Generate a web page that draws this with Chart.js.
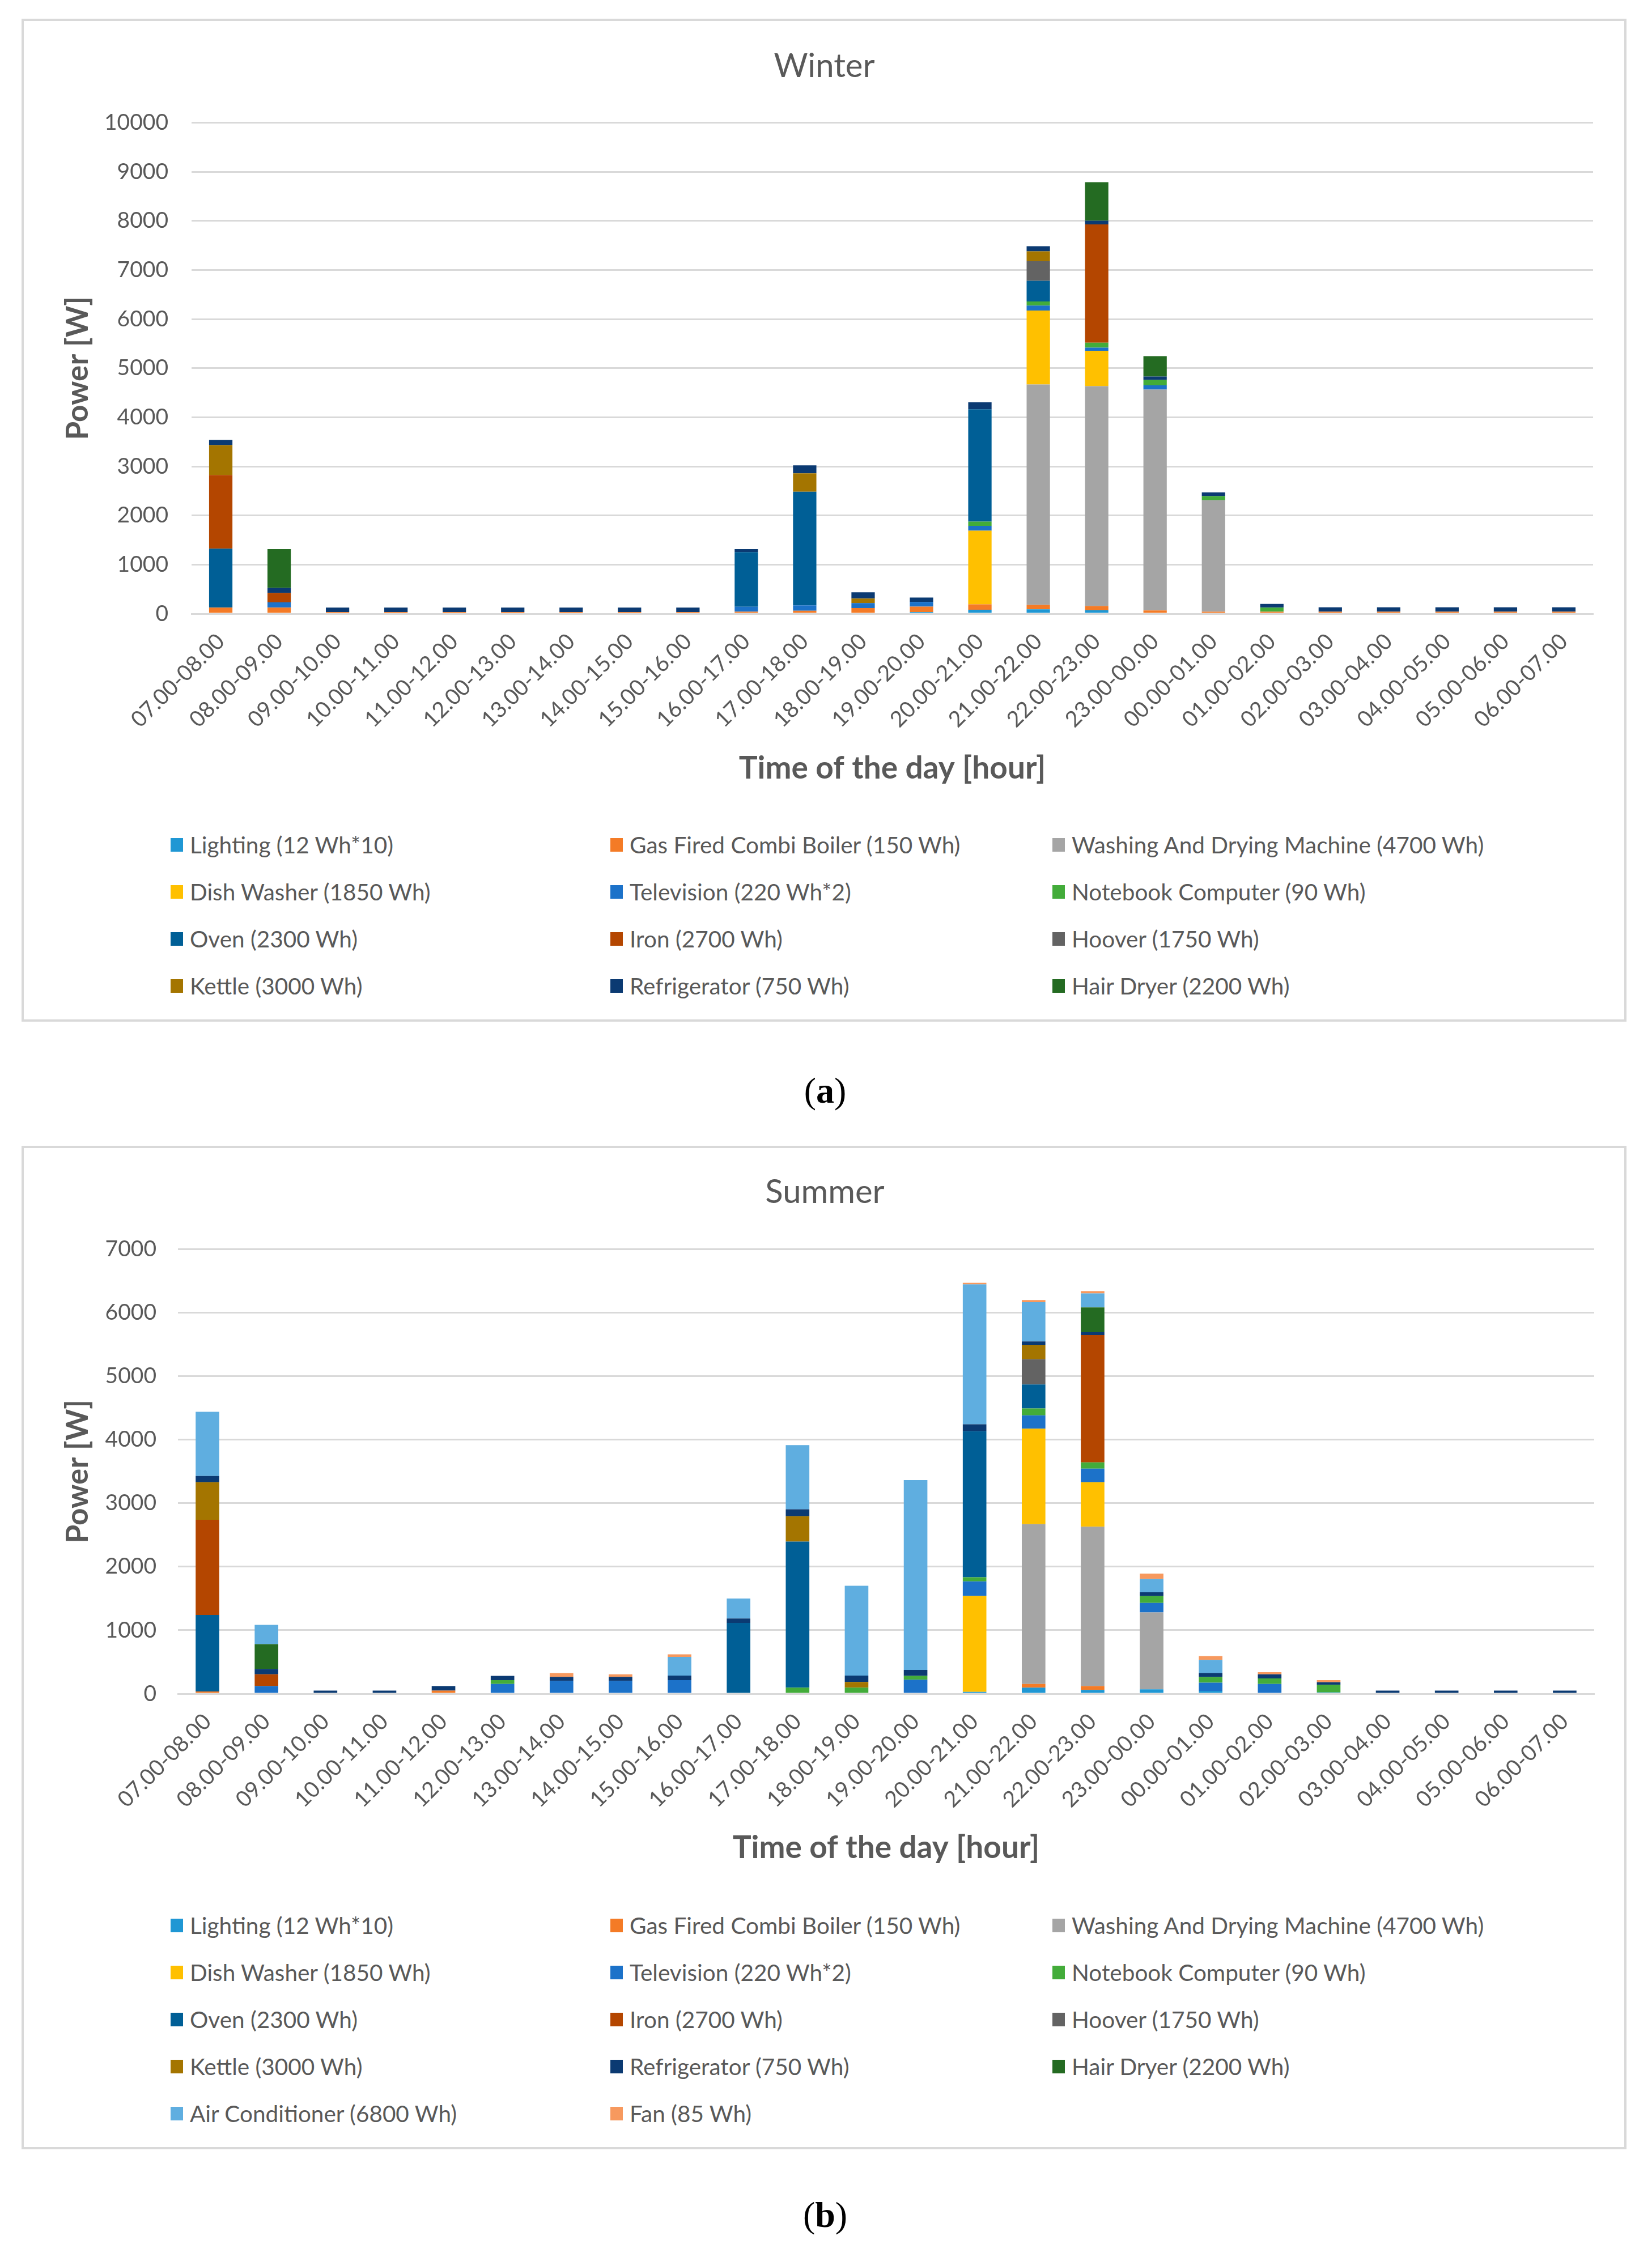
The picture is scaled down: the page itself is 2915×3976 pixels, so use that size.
<!DOCTYPE html>
<html>
<head>
<meta charset="utf-8">
<title>Household power demand - winter and summer</title>
<script src="https://cdn.jsdelivr.net/npm/chart.js@4.4.1/dist/chart.umd.min.js"></script>
<style>
  body { margin: 0; width: 2915px; height: 3976px; background: #fff; position: relative; font-family: Lato, "Open Sans", sans-serif; }
  .frame { position: absolute; left: 38px; width: 2832px; box-sizing: border-box; border: 4px solid #d9d9d9; }
  canvas { position: absolute; left: 38px; }
  .legend { position: absolute; left: 301px; display: grid; grid-template-columns: 776px 780px 760px; color: #595959; font-size: 40.5px; }
  .legend div { display: flex; align-items: center; height: 83px; white-space: nowrap; }
  .legend .box { width: 22px; height: 24px; margin-right: 12px; flex: none; }
  .cap { position: absolute; left: 1356px; width: 200px; text-align: center; font-family: "Liberation Serif", serif; font-size: 64px; line-height: 80px; color: #000; }
</style>
</head>
<body>
<div class="frame" style="top:33px;height:1770px"></div>
<canvas id="winterChart" width="2832" height="1400" style="top:33px"></canvas>
<div class="legend" id="winterLegend" style="top:1449px"></div>
<div class="cap" style="top:1885px">(<b>a</b>)</div>

<div class="frame" style="top:2022px;height:1771px"></div>
<canvas id="summerChart" width="2832" height="1320" style="top:2022px"></canvas>
<div class="legend" id="summerLegend" style="top:3356px"></div>
<div class="cap" style="top:3869px">(<b>b</b>)</div>

<script>
const hours = ['07.00-08.00', '08.00-09.00', '09.00-10.00', '10.00-11.00', '11.00-12.00', '12.00-13.00',
  '13.00-14.00', '14.00-15.00', '15.00-16.00', '16.00-17.00', '17.00-18.00', '18.00-19.00',
  '19.00-20.00', '20.00-21.00', '21.00-22.00', '22.00-23.00', '23.00-00.00', '00.00-01.00',
  '01.00-02.00', '02.00-03.00', '03.00-04.00', '04.00-05.00', '05.00-06.00', '06.00-07.00'];

const appliances = ['Lighting (12 Wh*10)', 'Gas Fired Combi Boiler (150 Wh)', 'Washing And Drying Machine (4700 Wh)',
  'Dish Washer (1850 Wh)', 'Television (220 Wh*2)', 'Notebook Computer (90 Wh)',
  'Oven (2300 Wh)', 'Iron (2700 Wh)', 'Hoover (1750 Wh)',
  'Kettle (3000 Wh)', 'Refrigerator (750 Wh)', 'Hair Dryer (2200 Wh)',
  'Air Conditioner (6800 Wh)', 'Fan (85 Wh)'];

const applianceColours = ['#1f97d4', '#f47b26', '#a5a5a5', '#ffc000', '#1c72c9', '#43ac3a',
  '#005f96', '#b44600', '#636363', '#a47500', '#0b3a72', '#246b22', '#5faee0', '#f7995e'];

// Winter (W per hour slot)
const winterLighting     = [0, 0, 0, 0, 0, 0, 0, 0, 0, 0, 0, 0, 35, 80, 90, 70, 0, 0, 0, 0, 0, 0, 0, 0];
const winterBoiler       = [125, 125, 35, 35, 35, 35, 35, 35, 35, 40, 60, 115, 110, 110, 90, 85, 65, 40, 40, 40, 40, 40, 40, 40];
const winterWashing      = [0, 0, 0, 0, 0, 0, 0, 0, 0, 0, 0, 0, 0, 0, 4490, 4480, 4500, 2270, 0, 0, 0, 0, 0, 0];
const winterDishWasher   = [0, 0, 0, 0, 0, 0, 0, 0, 0, 0, 0, 0, 0, 1500, 1505, 720, 0, 0, 0, 0, 0, 0, 0, 0];
const winterTelevision   = [0, 105, 0, 0, 0, 0, 0, 0, 0, 100, 110, 100, 95, 100, 100, 65, 85, 0, 0, 0, 0, 0, 0, 0];
const winterNotebook     = [0, 0, 0, 0, 0, 0, 0, 0, 0, 0, 0, 0, 0, 85, 85, 100, 110, 85, 85, 0, 0, 0, 0, 0];
const winterOven         = [1200, 0, 0, 0, 0, 0, 0, 0, 0, 1115, 2315, 0, 0, 2290, 420, 0, 0, 0, 0, 0, 0, 0, 0, 0];
const winterIron         = [1500, 190, 0, 0, 0, 0, 0, 0, 0, 0, 0, 0, 0, 0, 0, 2410, 0, 0, 0, 0, 0, 0, 0, 0];
const winterHoover       = [0, 0, 0, 0, 0, 0, 0, 0, 0, 0, 0, 0, 0, 0, 400, 0, 0, 0, 0, 0, 0, 0, 0, 0];
const winterKettle       = [610, 0, 0, 0, 0, 0, 0, 0, 0, 0, 375, 95, 0, 0, 200, 0, 0, 0, 0, 0, 0, 0, 0, 0];
const winterRefrigerator = [105, 105, 90, 90, 90, 90, 90, 90, 90, 60, 160, 125, 90, 140, 105, 75, 70, 75, 75, 90, 90, 90, 90, 90];
const winterHairDryer    = [0, 790, 0, 0, 0, 0, 0, 0, 0, 0, 0, 0, 0, 0, 0, 785, 415, 0, 0, 0, 0, 0, 0, 0];

// Summer (W per hour slot)
const summerLighting     = [0, 0, 0, 0, 0, 0, 0, 0, 0, 0, 0, 0, 0, 30, 95, 60, 70, 45, 0, 20, 0, 0, 0, 0];
const summerBoiler       = [35, 0, 0, 0, 50, 0, 0, 0, 0, 0, 0, 0, 0, 0, 60, 60, 0, 0, 0, 0, 0, 0, 0, 0];
const summerWashing      = [0, 0, 0, 0, 0, 0, 0, 0, 0, 0, 0, 0, 0, 0, 2515, 2510, 1210, 0, 0, 0, 0, 0, 0, 0];
const summerDishWasher   = [0, 0, 0, 0, 0, 0, 0, 0, 0, 0, 0, 0, 0, 1510, 1505, 700, 0, 0, 0, 0, 0, 0, 0, 0];
const summerTelevision   = [0, 120, 0, 0, 0, 155, 200, 200, 215, 0, 0, 0, 220, 230, 210, 215, 150, 130, 155, 0, 0, 0, 0, 0];
const summerNotebook     = [0, 0, 0, 0, 0, 60, 0, 0, 0, 0, 95, 95, 60, 65, 108, 98, 108, 88, 85, 120, 0, 0, 0, 0];
const summerOven         = [1205, 0, 0, 0, 0, 0, 0, 0, 0, 1115, 2300, 0, 0, 2300, 378, 0, 0, 0, 0, 0, 0, 0, 0, 0];
const summerIron         = [1500, 185, 0, 0, 0, 0, 0, 0, 0, 0, 0, 0, 0, 0, 0, 2005, 0, 0, 0, 0, 0, 0, 0, 0];
const summerHoover       = [0, 0, 0, 0, 0, 0, 0, 0, 0, 0, 0, 0, 0, 0, 397, 0, 0, 0, 0, 0, 0, 0, 0, 0];
const summerKettle       = [590, 0, 0, 0, 0, 0, 0, 0, 0, 0, 400, 90, 0, 0, 220, 0, 0, 0, 0, 0, 0, 0, 0, 0];
const summerRefrigerator = [100, 85, 50, 50, 70, 65, 65, 65, 70, 70, 110, 100, 95, 108, 60, 45, 60, 65, 65, 40, 50, 50, 50, 50];
const summerHairDryer    = [0, 390, 0, 0, 0, 0, 0, 0, 0, 0, 0, 0, 0, 0, 0, 392, 0, 0, 0, 0, 0, 0, 0, 0];
const summerAirCond      = [1010, 305, 0, 0, 0, 0, 0, 0, 295, 315, 1010, 1415, 2990, 2205, 618, 220, 210, 205, 0, 0, 0, 0, 0, 0];
const summerFan          = [0, 0, 0, 0, 0, 0, 60, 40, 40, 0, 0, 0, 0, 25, 35, 35, 85, 60, 35, 35, 0, 0, 0, 0];

const winterSeries = [winterLighting, winterBoiler, winterWashing, winterDishWasher, winterTelevision, winterNotebook,
  winterOven, winterIron, winterHoover, winterKettle, winterRefrigerator, winterHairDryer];
const summerSeries = [summerLighting, summerBoiler, summerWashing, summerDishWasher, summerTelevision, summerNotebook,
  summerOven, summerIron, summerHoover, summerKettle, summerRefrigerator, summerHairDryer, summerAirCond, summerFan];

const textGrey = '#595959';
const gridGrey = '#d9d9d9';
const fontFamily = 'Lato, "Open Sans", sans-serif';

function buildChart(id, title, series, yMax, box) {
  const datasets = series.map((values, i) => ({
    label: appliances[i],
    data: values,
    backgroundColor: applianceColours[i],
    borderWidth: 0,
    categoryPercentage: 1,
    barPercentage: 0.4
  }));

  return new Chart(document.getElementById(id), {
    type: 'bar',
    data: { labels: hours, datasets },
    options: {
      responsive: false,
      devicePixelRatio: 1,
      animation: false,
      layout: { padding: { left: 60, right: box.right, top: 0, bottom: box.bottom } },
      plugins: {
        legend: { display: false },
        tooltip: { enabled: false },
        title: {
          display: true,
          text: title,
          color: textGrey,
          font: { family: fontFamily, size: 58, weight: 'normal' },
          padding: { top: box.titleTop, bottom: box.titleBottom }
        }
      },
      scales: {
        x: {
          stacked: true,
          grid: { display: false },
          border: { display: true, color: gridGrey, width: 3 },
          ticks: {
            autoSkip: false, minRotation: 45, maxRotation: 45, padding: 18,
            color: textGrey, font: { family: fontFamily, size: 39 }
          },
          title: {
            display: true, text: 'Time of the day [hour]', color: textGrey,
            font: { family: fontFamily, size: 55, weight: 'bold' }, padding: 0
          },
          afterFit: s => { s.height = box.xHeight; }
        },
        y: {
          stacked: true,
          min: 0, max: yMax,
          grid: { color: gridGrey, lineWidth: 3, drawTicks: false },
          border: { display: false },
          ticks: {
            stepSize: 1000, padding: box.tickPad,
            color: textGrey, font: { family: fontFamily, size: 39 },
            callback: v => String(v)
          },
          title: {
            display: true, text: 'Power [W]', color: textGrey,
            font: { family: fontFamily, size: 53, weight: 'bold' }, padding: { top: 8, bottom: 0 }
          },
          afterFit: s => { s.width = box.yWidth; }
        }
      }
    }
  });
}

function buildLegend(id, count) {
  const el = document.getElementById(id);
  for (let i = 0; i < count; i++) {
    const item = document.createElement('div');
    const sw = document.createElement('span');
    sw.className = 'box';
    sw.style.background = applianceColours[i];
    item.appendChild(sw);
    item.appendChild(document.createTextNode(appliances[i]));
    el.appendChild(item);
  }
}

buildChart('winterChart', 'Winter', winterSeries, 10000,
  { right: 59, bottom: 44, titleTop: 49, titleBottom: 65, xHeight: 306, yWidth: 240, tickPad: 41 });
buildChart('summerChart', 'Summer', summerSeries, 7000,
  { right: 57, bottom: 48, titleTop: 47, titleBottom: 66, xHeight: 305, yWidth: 216, tickPad: 38 });

buildLegend('winterLegend', winterSeries.length);
buildLegend('summerLegend', summerSeries.length);
</script>
</body>
</html>
